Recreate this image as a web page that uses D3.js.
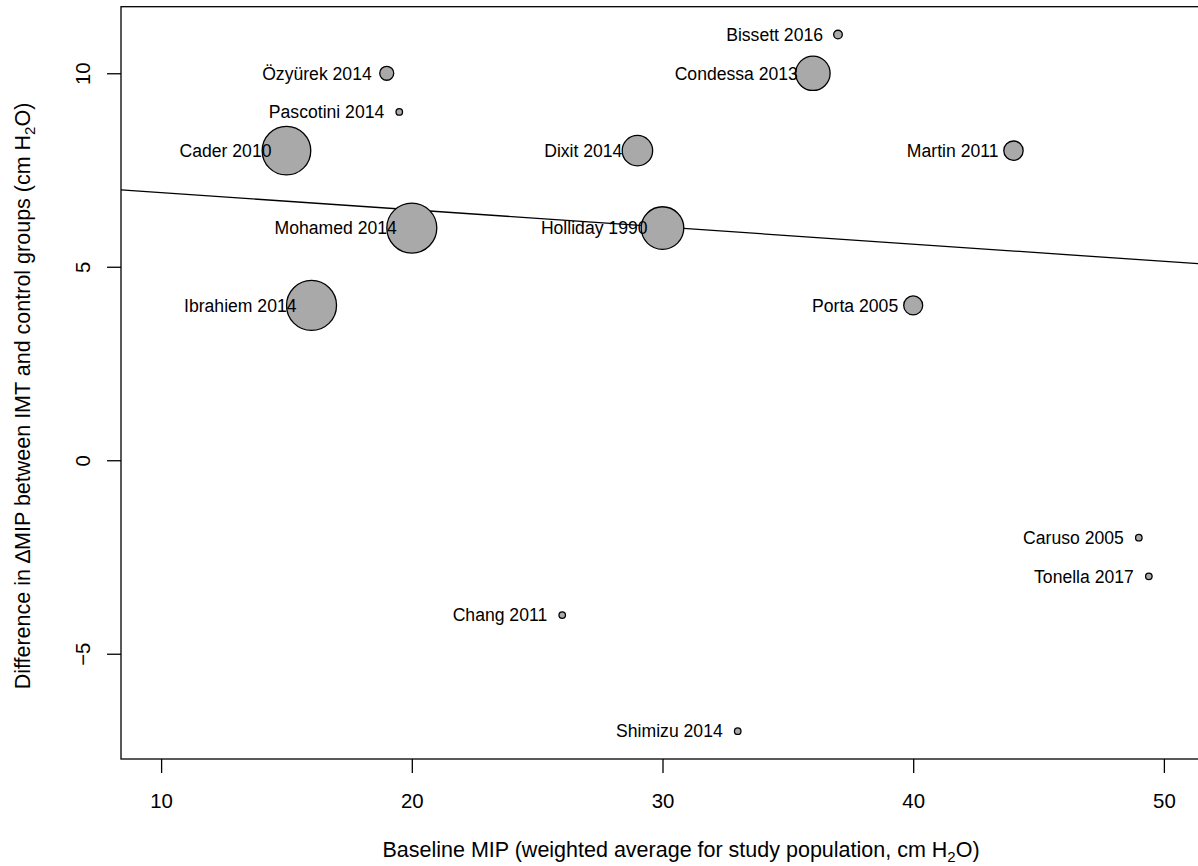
<!DOCTYPE html>
<html>
<head>
<meta charset="utf-8">
<script src="https://cdn.jsdelivr.net/npm/d3@7"></script>
<style>
  html, body { margin: 0; padding: 0; background: #fff; }
  svg { display: block; font-family: "Liberation Sans", Arial, Helvetica, sans-serif; }
</style>
</head>
<body>
<svg id="chart" width="1198" height="866"></svg>
<script>
// Study labels, baseline MIP (x), difference in ΔMIP (y) and relative study weight
const studies = ["Cader 2010", "Ibrahiem 2014", "Özyürek 2014", "Pascotini 2014", "Mohamed 2014",
  "Chang 2011", "Dixit 2014", "Holliday 1990", "Shimizu 2014", "Condessa 2013",
  "Bissett 2016", "Porta 2005", "Martin 2011", "Caruso 2005", "Tonella 2017"];
const baselineMIP = [15, 16, 19, 19.5, 20, 26, 29, 30, 33, 36, 37, 40, 44, 49, 49.4];
const diffMIP = [8, 4, 10, 9, 6, -4, 8, 6, -7, 10, 11, 4, 8, -2, -3];
const weights = [94.5, 100, 7.8, 1.7, 100, 1.7, 37, 72.6, 1.7, 47.3, 3, 14.4, 15, 1.7, 1.7];

// Meta-regression line: intercept and slope
const regression = { intercept: 7.36, slope: -0.0444 };

const xTicks = [10, 20, 30, 40, 50];
const yTicks = [-5, 0, 5, 10];
const xDomain = [8.4, 51.6];
const yDomain = [-7.72, 11.72];

const svg = d3.select("#chart");
const plot = { left: 121, right: 1204, top: 6.7, bottom: 759 };

const x = d3.scaleLinear().domain(xDomain).range([plot.left, plot.right]);
const y = d3.scaleLinear().domain(yDomain).range([plot.bottom, plot.top]);
const r = d3.scaleSqrt().domain([0, d3.max(weights)]).range([0, 25]);

const data = studies.map((s, i) => ({ name: s, x: baselineMIP[i], y: diffMIP[i], w: weights[i] }));

// clip for the regression line
svg.append("defs").append("clipPath").attr("id", "plotClip")
  .append("rect")
  .attr("x", plot.left).attr("y", plot.top)
  .attr("width", plot.right - plot.left).attr("height", plot.bottom - plot.top);

// regression line
svg.append("line")
  .attr("clip-path", "url(#plotClip)")
  .attr("x1", x(xDomain[0])).attr("y1", y(regression.intercept + regression.slope * xDomain[0]))
  .attr("x2", x(xDomain[1])).attr("y2", y(regression.intercept + regression.slope * xDomain[1]))
  .attr("stroke", "#000").attr("stroke-width", 1.3);

// bubbles
svg.append("g").selectAll("circle")
  .data(data).join("circle")
  .attr("cx", d => x(d.x)).attr("cy", d => y(d.y))
  .attr("r", d => r(d.w))
  .attr("fill", "#a9a9a9").attr("stroke", "#000").attr("stroke-width", 1.3);

// study labels to the left of each point
svg.append("g").selectAll("text")
  .data(data).join("text")
  .attr("x", d => x(d.x) - 15).attr("y", d => y(d.y))
  .attr("dy", "0.36em")
  .attr("text-anchor", "end")
  .attr("font-size", 17.6)
  .attr("fill", "#000")
  .text(d => d.name);

// axes (ticks)
const xAxis = d3.axisBottom(x).tickValues(xTicks).tickSize(14).tickSizeOuter(0).tickFormat(d3.format("d"));
const gx = svg.append("g").attr("transform", `translate(0,${plot.bottom})`).call(xAxis);
gx.select(".domain").remove();
gx.selectAll(".tick line").attr("stroke", "#000").attr("stroke-width", 1.3);
gx.selectAll(".tick text").attr("font-size", 20.4).attr("fill", "#000")
  .attr("font-family", "Liberation Sans, Arial, sans-serif")
  .attr("y", 49).attr("dy", 0);

const yAxis = d3.axisLeft(y).tickValues(yTicks).tickSize(14).tickSizeOuter(0).tickFormat(d3.format("d"));
const gy = svg.append("g").attr("transform", `translate(${plot.left},0)`).call(yAxis);
gy.select(".domain").remove();
gy.selectAll(".tick line").attr("stroke", "#000").attr("stroke-width", 1.3);
gy.selectAll(".tick text").attr("font-size", 20.4).attr("fill", "#000")
  .attr("font-family", "Liberation Sans, Arial, sans-serif")
  .attr("x", 0).attr("dy", 0)
  .attr("text-anchor", "middle")
  .attr("transform", "translate(-31,0) rotate(-90)");

// plot frame
svg.append("rect")
  .attr("x", plot.left).attr("y", plot.top)
  .attr("width", plot.right - plot.left).attr("height", plot.bottom - plot.top)
  .attr("fill", "none").attr("stroke", "#000").attr("stroke-width", 1.3);

// axis titles
const xt = svg.append("text")
  .attr("x", 681).attr("y", 857)
  .attr("text-anchor", "middle").attr("font-size", 21.5).attr("fill", "#000");
xt.append("tspan").text("Baseline MIP (weighted average for study population, cm H");
xt.append("tspan").attr("font-size", 15).attr("dy", 5).text("2");
xt.append("tspan").attr("dy", -5).text("O)");

const yt = svg.append("text")
  .attr("transform", "translate(30,396) rotate(-90)")
  .attr("text-anchor", "middle").attr("font-size", 21.5).attr("fill", "#000");
yt.append("tspan").text("Difference in ");
yt.append("tspan").text("\u2206");
yt.append("tspan").text("MIP between IMT and control groups (cm H");
yt.append("tspan").attr("font-size", 15).attr("dy", 5).text("2");
yt.append("tspan").attr("dy", -5).text("O)");
</script>
</body>
</html>
